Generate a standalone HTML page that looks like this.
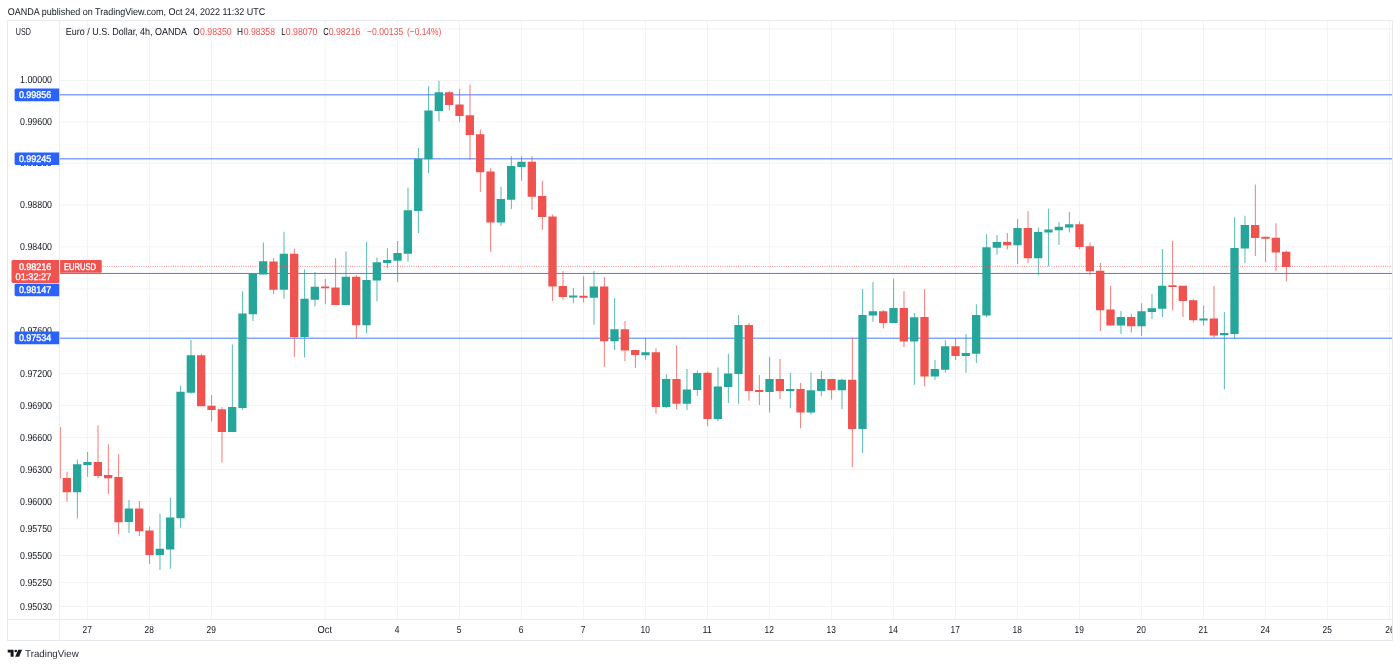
<!DOCTYPE html>
<html lang="en"><head><meta charset="utf-8"><title>EURUSD 4h - TradingView</title>
<style>
html,body{margin:0;padding:0;background:#fff;}
body{width:1400px;height:667px;overflow:hidden;position:relative;font-family:"Liberation Sans",sans-serif;}
svg{position:absolute;left:0;top:0;display:block;}
text{text-rendering:geometricPrecision;font-family:"Liberation Sans",sans-serif;font-size:10.2px;fill:#131722;}
.ax{text-anchor:end;}
.tm{text-anchor:middle;}
.r{fill:#ef5350;}
.w{fill:#fff;stroke:#fff;stroke-width:0.35px;font-size:9.7px;}
</style></head><body>
<svg width="1400" height="667" viewBox="0 0 1400 667">
<rect x="0" y="0" width="1400" height="667" fill="#fff"/>
<g stroke="#f2f4f4" stroke-width="1" fill="none">
<line x1="59.50" y1="28.99" x2="1392.50" y2="28.99"/>
<line x1="59.50" y1="80.45" x2="1392.50" y2="80.45"/>
<line x1="59.50" y1="121.80" x2="1392.50" y2="121.80"/>
<line x1="59.50" y1="163.33" x2="1392.50" y2="163.33"/>
<line x1="59.50" y1="205.01" x2="1392.50" y2="205.01"/>
<line x1="59.50" y1="246.87" x2="1392.50" y2="246.87"/>
<line x1="59.50" y1="288.90" x2="1392.50" y2="288.90"/>
<line x1="59.50" y1="331.10" x2="1392.50" y2="331.10"/>
<line x1="59.50" y1="373.48" x2="1392.50" y2="373.48"/>
<line x1="59.50" y1="405.37" x2="1392.50" y2="405.37"/>
<line x1="59.50" y1="437.36" x2="1392.50" y2="437.36"/>
<line x1="59.50" y1="469.46" x2="1392.50" y2="469.46"/>
<line x1="59.50" y1="501.65" x2="1392.50" y2="501.65"/>
<line x1="59.50" y1="528.56" x2="1392.50" y2="528.56"/>
<line x1="59.50" y1="555.53" x2="1392.50" y2="555.53"/>
<line x1="59.50" y1="582.58" x2="1392.50" y2="582.58"/>
<line x1="59.50" y1="606.44" x2="1392.50" y2="606.44"/>
<line x1="87.50" y1="20.50" x2="87.50" y2="619.50"/>
<line x1="149.50" y1="20.50" x2="149.50" y2="619.50"/>
<line x1="211.50" y1="20.50" x2="211.50" y2="619.50"/>
<line x1="325.17" y1="20.50" x2="325.17" y2="619.50"/>
<line x1="397.50" y1="20.50" x2="397.50" y2="619.50"/>
<line x1="459.50" y1="20.50" x2="459.50" y2="619.50"/>
<line x1="521.50" y1="20.50" x2="521.50" y2="619.50"/>
<line x1="583.50" y1="20.50" x2="583.50" y2="619.50"/>
<line x1="645.50" y1="20.50" x2="645.50" y2="619.50"/>
<line x1="707.50" y1="20.50" x2="707.50" y2="619.50"/>
<line x1="769.50" y1="20.50" x2="769.50" y2="619.50"/>
<line x1="831.50" y1="20.50" x2="831.50" y2="619.50"/>
<line x1="893.50" y1="20.50" x2="893.50" y2="619.50"/>
<line x1="955.50" y1="20.50" x2="955.50" y2="619.50"/>
<line x1="1017.50" y1="20.50" x2="1017.50" y2="619.50"/>
<line x1="1079.50" y1="20.50" x2="1079.50" y2="619.50"/>
<line x1="1141.50" y1="20.50" x2="1141.50" y2="619.50"/>
<line x1="1203.50" y1="20.50" x2="1203.50" y2="619.50"/>
<line x1="1265.50" y1="20.50" x2="1265.50" y2="619.50"/>
<line x1="1327.50" y1="20.50" x2="1327.50" y2="619.50"/>
<line x1="1389.50" y1="20.50" x2="1389.50" y2="619.50"/>
</g>
<g stroke="#2962ff" stroke-width="0.9" stroke-opacity="0.95">
<line x1="59.50" y1="94.83" x2="1392.50" y2="94.83"/>
<line x1="59.50" y1="158.85" x2="1392.50" y2="158.85"/>
<line x1="59.50" y1="273.45" x2="1392.50" y2="273.45"/>
<line x1="59.50" y1="338.18" x2="1392.50" y2="338.18"/>
</g>
<g id="candles">
<rect x="59.5" y="427" width="1.3" height="51.5" fill="#ef5350" fill-opacity="0.8"/>
<rect x="66.53" y="471.75" width="0.9" height="30.00" fill="#ef5350" fill-opacity="0.85"/>
<rect x="62.68" y="478.00" width="8.30" height="14.25" fill="#ef5350"/>
<rect x="76.87" y="459.50" width="0.9" height="59.00" fill="#26a69a" fill-opacity="0.85"/>
<rect x="73.02" y="464.25" width="8.30" height="28.00" fill="#26a69a"/>
<rect x="87.20" y="452.00" width="0.9" height="24.75" fill="#26a69a" fill-opacity="0.85"/>
<rect x="83.35" y="462.00" width="8.30" height="3.00" fill="#26a69a"/>
<rect x="97.53" y="425.50" width="0.9" height="53.00" fill="#ef5350" fill-opacity="0.85"/>
<rect x="93.68" y="462.00" width="8.30" height="14.00" fill="#ef5350"/>
<rect x="107.87" y="444.25" width="0.9" height="49.75" fill="#ef5350" fill-opacity="0.85"/>
<rect x="104.02" y="475.00" width="8.30" height="3.25" fill="#ef5350"/>
<rect x="118.20" y="454.25" width="0.9" height="80.00" fill="#ef5350" fill-opacity="0.85"/>
<rect x="114.35" y="477.00" width="8.30" height="45.25" fill="#ef5350"/>
<rect x="128.53" y="500.00" width="0.9" height="33.00" fill="#26a69a" fill-opacity="0.85"/>
<rect x="124.68" y="508.50" width="8.30" height="13.50" fill="#26a69a"/>
<rect x="138.87" y="501.00" width="0.9" height="35.00" fill="#ef5350" fill-opacity="0.85"/>
<rect x="135.02" y="508.50" width="8.30" height="22.75" fill="#ef5350"/>
<rect x="149.20" y="526.50" width="0.9" height="37.50" fill="#ef5350" fill-opacity="0.85"/>
<rect x="145.35" y="530.50" width="8.30" height="24.50" fill="#ef5350"/>
<rect x="159.53" y="513.75" width="0.9" height="56.25" fill="#26a69a" fill-opacity="0.85"/>
<rect x="155.68" y="548.75" width="8.30" height="6.25" fill="#26a69a"/>
<rect x="169.87" y="497.75" width="0.9" height="71.00" fill="#26a69a" fill-opacity="0.85"/>
<rect x="166.02" y="517.50" width="8.30" height="32.00" fill="#26a69a"/>
<rect x="180.20" y="385.75" width="0.9" height="141.75" fill="#26a69a" fill-opacity="0.85"/>
<rect x="176.35" y="391.75" width="8.30" height="126.50" fill="#26a69a"/>
<rect x="190.53" y="340.00" width="0.9" height="53.50" fill="#26a69a" fill-opacity="0.85"/>
<rect x="186.68" y="355.25" width="8.30" height="37.50" fill="#26a69a"/>
<rect x="200.87" y="353.75" width="0.9" height="52.50" fill="#ef5350" fill-opacity="0.85"/>
<rect x="197.02" y="355.25" width="8.30" height="51.00" fill="#ef5350"/>
<rect x="211.20" y="395.00" width="0.9" height="26.50" fill="#ef5350" fill-opacity="0.85"/>
<rect x="207.35" y="405.75" width="8.30" height="4.25" fill="#ef5350"/>
<rect x="221.53" y="407.00" width="0.9" height="55.50" fill="#ef5350" fill-opacity="0.85"/>
<rect x="217.68" y="409.25" width="8.30" height="22.75" fill="#ef5350"/>
<rect x="231.87" y="344.50" width="0.9" height="87.50" fill="#26a69a" fill-opacity="0.85"/>
<rect x="228.02" y="407.00" width="8.30" height="25.00" fill="#26a69a"/>
<rect x="242.20" y="291.25" width="0.9" height="118.75" fill="#26a69a" fill-opacity="0.85"/>
<rect x="238.35" y="313.50" width="8.30" height="94.50" fill="#26a69a"/>
<rect x="252.53" y="273.50" width="0.9" height="47.50" fill="#26a69a" fill-opacity="0.85"/>
<rect x="248.68" y="273.50" width="8.30" height="40.75" fill="#26a69a"/>
<rect x="262.87" y="242.50" width="0.9" height="32.00" fill="#26a69a" fill-opacity="0.85"/>
<rect x="259.02" y="261.25" width="8.30" height="13.25" fill="#26a69a"/>
<rect x="273.20" y="258.00" width="0.9" height="36.25" fill="#ef5350" fill-opacity="0.85"/>
<rect x="269.35" y="261.50" width="8.30" height="28.25" fill="#ef5350"/>
<rect x="283.53" y="231.75" width="0.9" height="67.00" fill="#26a69a" fill-opacity="0.85"/>
<rect x="279.68" y="253.75" width="8.30" height="36.00" fill="#26a69a"/>
<rect x="293.87" y="248.75" width="0.9" height="108.00" fill="#ef5350" fill-opacity="0.85"/>
<rect x="290.02" y="253.75" width="8.30" height="83.25" fill="#ef5350"/>
<rect x="304.20" y="269.25" width="0.9" height="88.25" fill="#26a69a" fill-opacity="0.85"/>
<rect x="300.35" y="298.75" width="8.30" height="38.25" fill="#26a69a"/>
<rect x="314.53" y="272.00" width="0.9" height="34.50" fill="#26a69a" fill-opacity="0.85"/>
<rect x="310.68" y="286.75" width="8.30" height="13.00" fill="#26a69a"/>
<rect x="324.87" y="279.00" width="0.9" height="25.25" fill="#ef5350" fill-opacity="0.85"/>
<rect x="321.02" y="286.50" width="8.30" height="1.75" fill="#ef5350"/>
<rect x="335.20" y="258.25" width="0.9" height="46.75" fill="#ef5350" fill-opacity="0.85"/>
<rect x="331.35" y="287.50" width="8.30" height="17.50" fill="#ef5350"/>
<rect x="345.53" y="251.50" width="0.9" height="53.50" fill="#26a69a" fill-opacity="0.85"/>
<rect x="341.68" y="276.75" width="8.30" height="28.25" fill="#26a69a"/>
<rect x="355.87" y="275.00" width="0.9" height="63.50" fill="#ef5350" fill-opacity="0.85"/>
<rect x="352.02" y="276.75" width="8.30" height="48.50" fill="#ef5350"/>
<rect x="366.20" y="241.75" width="0.9" height="91.50" fill="#26a69a" fill-opacity="0.85"/>
<rect x="362.35" y="280.00" width="8.30" height="45.25" fill="#26a69a"/>
<rect x="376.53" y="257.50" width="0.9" height="43.75" fill="#26a69a" fill-opacity="0.85"/>
<rect x="372.68" y="262.25" width="8.30" height="18.25" fill="#26a69a"/>
<rect x="386.87" y="248.25" width="0.9" height="19.75" fill="#26a69a" fill-opacity="0.85"/>
<rect x="383.02" y="260.00" width="8.30" height="3.00" fill="#26a69a"/>
<rect x="397.20" y="241.00" width="0.9" height="41.25" fill="#26a69a" fill-opacity="0.85"/>
<rect x="393.35" y="253.00" width="8.30" height="7.75" fill="#26a69a"/>
<rect x="407.53" y="187.50" width="0.9" height="74.25" fill="#26a69a" fill-opacity="0.85"/>
<rect x="403.68" y="210.25" width="8.30" height="43.50" fill="#26a69a"/>
<rect x="417.87" y="148.00" width="0.9" height="85.00" fill="#26a69a" fill-opacity="0.85"/>
<rect x="414.02" y="158.75" width="8.30" height="52.25" fill="#26a69a"/>
<rect x="428.20" y="86.25" width="0.9" height="86.75" fill="#26a69a" fill-opacity="0.85"/>
<rect x="424.35" y="110.50" width="8.30" height="48.75" fill="#26a69a"/>
<rect x="438.53" y="80.75" width="0.9" height="40.50" fill="#26a69a" fill-opacity="0.85"/>
<rect x="434.68" y="92.25" width="8.30" height="18.75" fill="#26a69a"/>
<rect x="448.87" y="91.00" width="0.9" height="19.50" fill="#ef5350" fill-opacity="0.85"/>
<rect x="445.02" y="92.25" width="8.30" height="12.75" fill="#ef5350"/>
<rect x="459.20" y="89.00" width="0.9" height="33.25" fill="#ef5350" fill-opacity="0.85"/>
<rect x="455.35" y="104.50" width="8.30" height="11.50" fill="#ef5350"/>
<rect x="469.53" y="84.50" width="0.9" height="75.25" fill="#ef5350" fill-opacity="0.85"/>
<rect x="465.68" y="115.25" width="8.30" height="19.75" fill="#ef5350"/>
<rect x="479.87" y="129.50" width="0.9" height="62.50" fill="#ef5350" fill-opacity="0.85"/>
<rect x="476.02" y="134.25" width="8.30" height="38.00" fill="#ef5350"/>
<rect x="490.20" y="168.25" width="0.9" height="83.50" fill="#ef5350" fill-opacity="0.85"/>
<rect x="486.35" y="171.50" width="8.30" height="51.00" fill="#ef5350"/>
<rect x="500.53" y="186.75" width="0.9" height="39.25" fill="#26a69a" fill-opacity="0.85"/>
<rect x="496.68" y="199.00" width="8.30" height="23.50" fill="#26a69a"/>
<rect x="510.87" y="156.25" width="0.9" height="52.75" fill="#26a69a" fill-opacity="0.85"/>
<rect x="507.02" y="166.00" width="8.30" height="33.75" fill="#26a69a"/>
<rect x="521.20" y="156.25" width="0.9" height="24.50" fill="#26a69a" fill-opacity="0.85"/>
<rect x="517.35" y="161.75" width="8.30" height="5.25" fill="#26a69a"/>
<rect x="531.53" y="156.25" width="0.9" height="53.50" fill="#ef5350" fill-opacity="0.85"/>
<rect x="527.68" y="161.75" width="8.30" height="35.00" fill="#ef5350"/>
<rect x="541.87" y="180.75" width="0.9" height="49.25" fill="#ef5350" fill-opacity="0.85"/>
<rect x="538.02" y="196.00" width="8.30" height="21.00" fill="#ef5350"/>
<rect x="552.20" y="214.50" width="0.9" height="86.50" fill="#ef5350" fill-opacity="0.85"/>
<rect x="548.35" y="216.50" width="8.30" height="70.00" fill="#ef5350"/>
<rect x="562.53" y="271.00" width="0.9" height="28.75" fill="#ef5350" fill-opacity="0.85"/>
<rect x="558.68" y="286.00" width="8.30" height="11.00" fill="#ef5350"/>
<rect x="572.87" y="288.00" width="0.9" height="15.25" fill="#26a69a" fill-opacity="0.85"/>
<rect x="569.02" y="295.50" width="8.30" height="2.00" fill="#26a69a"/>
<rect x="583.20" y="276.25" width="0.9" height="26.25" fill="#ef5350" fill-opacity="0.85"/>
<rect x="579.35" y="295.75" width="8.30" height="2.00" fill="#ef5350"/>
<rect x="593.53" y="271.00" width="0.9" height="53.75" fill="#26a69a" fill-opacity="0.85"/>
<rect x="589.68" y="286.50" width="8.30" height="11.25" fill="#26a69a"/>
<rect x="603.87" y="277.00" width="0.9" height="89.75" fill="#ef5350" fill-opacity="0.85"/>
<rect x="600.02" y="286.50" width="8.30" height="54.75" fill="#ef5350"/>
<rect x="614.20" y="298.00" width="0.9" height="52.00" fill="#26a69a" fill-opacity="0.85"/>
<rect x="610.35" y="329.25" width="8.30" height="12.00" fill="#26a69a"/>
<rect x="624.53" y="321.00" width="0.9" height="40.00" fill="#ef5350" fill-opacity="0.85"/>
<rect x="620.68" y="329.25" width="8.30" height="21.25" fill="#ef5350"/>
<rect x="634.87" y="350.00" width="0.9" height="18.00" fill="#ef5350" fill-opacity="0.85"/>
<rect x="631.02" y="350.00" width="8.30" height="5.00" fill="#ef5350"/>
<rect x="645.20" y="338.00" width="0.9" height="21.75" fill="#26a69a" fill-opacity="0.85"/>
<rect x="641.35" y="352.25" width="8.30" height="3.00" fill="#26a69a"/>
<rect x="655.53" y="348.25" width="0.9" height="65.50" fill="#ef5350" fill-opacity="0.85"/>
<rect x="651.68" y="352.25" width="8.30" height="54.75" fill="#ef5350"/>
<rect x="665.87" y="374.25" width="0.9" height="33.75" fill="#26a69a" fill-opacity="0.85"/>
<rect x="662.02" y="379.00" width="8.30" height="28.00" fill="#26a69a"/>
<rect x="676.20" y="345.25" width="0.9" height="64.00" fill="#ef5350" fill-opacity="0.85"/>
<rect x="672.35" y="379.00" width="8.30" height="24.75" fill="#ef5350"/>
<rect x="686.53" y="369.00" width="0.9" height="41.00" fill="#26a69a" fill-opacity="0.85"/>
<rect x="682.68" y="389.50" width="8.30" height="14.25" fill="#26a69a"/>
<rect x="696.87" y="370.50" width="0.9" height="25.25" fill="#26a69a" fill-opacity="0.85"/>
<rect x="693.02" y="373.00" width="8.30" height="17.00" fill="#26a69a"/>
<rect x="707.20" y="371.75" width="0.9" height="54.25" fill="#ef5350" fill-opacity="0.85"/>
<rect x="703.35" y="372.75" width="8.30" height="46.25" fill="#ef5350"/>
<rect x="717.53" y="367.50" width="0.9" height="53.75" fill="#26a69a" fill-opacity="0.85"/>
<rect x="713.68" y="386.50" width="8.30" height="32.50" fill="#26a69a"/>
<rect x="727.87" y="353.75" width="0.9" height="49.25" fill="#26a69a" fill-opacity="0.85"/>
<rect x="724.02" y="373.50" width="8.30" height="13.50" fill="#26a69a"/>
<rect x="738.20" y="315.00" width="0.9" height="88.75" fill="#26a69a" fill-opacity="0.85"/>
<rect x="734.35" y="325.00" width="8.30" height="49.00" fill="#26a69a"/>
<rect x="748.53" y="323.00" width="0.9" height="77.75" fill="#ef5350" fill-opacity="0.85"/>
<rect x="744.68" y="325.00" width="8.30" height="66.00" fill="#ef5350"/>
<rect x="758.87" y="375.00" width="0.9" height="30.00" fill="#ef5350" fill-opacity="0.85"/>
<rect x="755.02" y="390.00" width="8.30" height="2.00" fill="#ef5350"/>
<rect x="769.20" y="357.00" width="0.9" height="55.50" fill="#26a69a" fill-opacity="0.85"/>
<rect x="765.35" y="379.00" width="8.30" height="13.00" fill="#26a69a"/>
<rect x="779.53" y="359.00" width="0.9" height="40.00" fill="#ef5350" fill-opacity="0.85"/>
<rect x="775.68" y="379.00" width="8.30" height="12.00" fill="#ef5350"/>
<rect x="789.87" y="372.75" width="0.9" height="35.50" fill="#26a69a" fill-opacity="0.85"/>
<rect x="786.02" y="389.00" width="8.30" height="2.00" fill="#26a69a"/>
<rect x="800.20" y="383.00" width="0.9" height="45.25" fill="#ef5350" fill-opacity="0.85"/>
<rect x="796.35" y="389.00" width="8.30" height="23.50" fill="#ef5350"/>
<rect x="810.53" y="372.75" width="0.9" height="41.75" fill="#26a69a" fill-opacity="0.85"/>
<rect x="806.68" y="390.25" width="8.30" height="22.25" fill="#26a69a"/>
<rect x="820.87" y="370.75" width="0.9" height="25.50" fill="#26a69a" fill-opacity="0.85"/>
<rect x="817.02" y="379.00" width="8.30" height="12.00" fill="#26a69a"/>
<rect x="831.20" y="379.00" width="0.9" height="20.50" fill="#ef5350" fill-opacity="0.85"/>
<rect x="827.35" y="379.00" width="8.30" height="11.25" fill="#ef5350"/>
<rect x="841.53" y="378.75" width="0.9" height="30.50" fill="#26a69a" fill-opacity="0.85"/>
<rect x="837.68" y="379.75" width="8.30" height="10.50" fill="#26a69a"/>
<rect x="851.87" y="338.00" width="0.9" height="129.25" fill="#ef5350" fill-opacity="0.85"/>
<rect x="848.02" y="379.75" width="8.30" height="49.25" fill="#ef5350"/>
<rect x="862.20" y="289.00" width="0.9" height="164.00" fill="#26a69a" fill-opacity="0.85"/>
<rect x="858.35" y="315.00" width="8.30" height="114.00" fill="#26a69a"/>
<rect x="872.53" y="282.00" width="0.9" height="39.75" fill="#26a69a" fill-opacity="0.85"/>
<rect x="868.68" y="311.25" width="8.30" height="4.25" fill="#26a69a"/>
<rect x="882.87" y="310.00" width="0.9" height="18.50" fill="#ef5350" fill-opacity="0.85"/>
<rect x="879.02" y="311.25" width="8.30" height="11.75" fill="#ef5350"/>
<rect x="893.20" y="278.75" width="0.9" height="44.25" fill="#26a69a" fill-opacity="0.85"/>
<rect x="889.35" y="308.00" width="8.30" height="15.00" fill="#26a69a"/>
<rect x="903.53" y="291.25" width="0.9" height="55.75" fill="#ef5350" fill-opacity="0.85"/>
<rect x="899.68" y="308.00" width="8.30" height="33.50" fill="#ef5350"/>
<rect x="913.87" y="313.00" width="0.9" height="71.75" fill="#26a69a" fill-opacity="0.85"/>
<rect x="910.02" y="317.25" width="8.30" height="24.25" fill="#26a69a"/>
<rect x="924.20" y="289.00" width="0.9" height="97.25" fill="#ef5350" fill-opacity="0.85"/>
<rect x="920.35" y="317.00" width="8.30" height="59.50" fill="#ef5350"/>
<rect x="934.53" y="360.00" width="0.9" height="19.75" fill="#26a69a" fill-opacity="0.85"/>
<rect x="930.68" y="369.00" width="8.30" height="7.50" fill="#26a69a"/>
<rect x="944.87" y="340.25" width="0.9" height="32.25" fill="#26a69a" fill-opacity="0.85"/>
<rect x="941.02" y="346.25" width="8.30" height="23.50" fill="#26a69a"/>
<rect x="955.20" y="338.00" width="0.9" height="22.00" fill="#ef5350" fill-opacity="0.85"/>
<rect x="951.35" y="346.25" width="8.30" height="9.75" fill="#ef5350"/>
<rect x="965.53" y="334.00" width="0.9" height="38.75" fill="#26a69a" fill-opacity="0.85"/>
<rect x="961.68" y="353.00" width="8.30" height="3.00" fill="#26a69a"/>
<rect x="975.87" y="304.25" width="0.9" height="58.75" fill="#26a69a" fill-opacity="0.85"/>
<rect x="972.02" y="315.00" width="8.30" height="38.75" fill="#26a69a"/>
<rect x="986.20" y="234.25" width="0.9" height="83.00" fill="#26a69a" fill-opacity="0.85"/>
<rect x="982.35" y="247.25" width="8.30" height="68.25" fill="#26a69a"/>
<rect x="996.53" y="235.00" width="0.9" height="19.75" fill="#26a69a" fill-opacity="0.85"/>
<rect x="992.68" y="242.00" width="8.30" height="5.75" fill="#26a69a"/>
<rect x="1006.87" y="233.00" width="0.9" height="16.50" fill="#ef5350" fill-opacity="0.85"/>
<rect x="1003.02" y="242.00" width="8.30" height="3.25" fill="#ef5350"/>
<rect x="1017.20" y="219.00" width="0.9" height="45.00" fill="#26a69a" fill-opacity="0.85"/>
<rect x="1013.35" y="228.00" width="8.30" height="17.25" fill="#26a69a"/>
<rect x="1027.53" y="211.25" width="0.9" height="51.75" fill="#ef5350" fill-opacity="0.85"/>
<rect x="1023.68" y="228.00" width="8.30" height="30.25" fill="#ef5350"/>
<rect x="1037.87" y="227.50" width="0.9" height="47.75" fill="#26a69a" fill-opacity="0.85"/>
<rect x="1034.02" y="232.00" width="8.30" height="26.25" fill="#26a69a"/>
<rect x="1048.20" y="208.75" width="0.9" height="57.50" fill="#26a69a" fill-opacity="0.85"/>
<rect x="1044.35" y="229.50" width="8.30" height="3.00" fill="#26a69a"/>
<rect x="1058.53" y="222.00" width="0.9" height="23.00" fill="#26a69a" fill-opacity="0.85"/>
<rect x="1054.68" y="226.75" width="8.30" height="3.50" fill="#26a69a"/>
<rect x="1068.87" y="212.00" width="0.9" height="20.50" fill="#26a69a" fill-opacity="0.85"/>
<rect x="1065.02" y="224.25" width="8.30" height="3.25" fill="#26a69a"/>
<rect x="1079.20" y="221.50" width="0.9" height="27.75" fill="#ef5350" fill-opacity="0.85"/>
<rect x="1075.35" y="224.25" width="8.30" height="22.75" fill="#ef5350"/>
<rect x="1089.53" y="242.50" width="0.9" height="32.75" fill="#ef5350" fill-opacity="0.85"/>
<rect x="1085.68" y="246.25" width="8.30" height="25.00" fill="#ef5350"/>
<rect x="1099.87" y="263.00" width="0.9" height="68.00" fill="#ef5350" fill-opacity="0.85"/>
<rect x="1096.02" y="270.75" width="8.30" height="39.50" fill="#ef5350"/>
<rect x="1110.20" y="285.75" width="0.9" height="39.75" fill="#ef5350" fill-opacity="0.85"/>
<rect x="1106.35" y="309.50" width="8.30" height="16.00" fill="#ef5350"/>
<rect x="1120.53" y="311.00" width="0.9" height="23.00" fill="#26a69a" fill-opacity="0.85"/>
<rect x="1116.68" y="317.00" width="8.30" height="8.50" fill="#26a69a"/>
<rect x="1130.87" y="313.75" width="0.9" height="18.75" fill="#ef5350" fill-opacity="0.85"/>
<rect x="1127.02" y="317.00" width="8.30" height="9.25" fill="#ef5350"/>
<rect x="1141.20" y="303.25" width="0.9" height="32.75" fill="#26a69a" fill-opacity="0.85"/>
<rect x="1137.35" y="311.25" width="8.30" height="15.00" fill="#26a69a"/>
<rect x="1151.53" y="294.00" width="0.9" height="25.00" fill="#26a69a" fill-opacity="0.85"/>
<rect x="1147.68" y="308.25" width="8.30" height="3.75" fill="#26a69a"/>
<rect x="1161.87" y="249.00" width="0.9" height="68.00" fill="#26a69a" fill-opacity="0.85"/>
<rect x="1158.02" y="285.75" width="8.30" height="23.00" fill="#26a69a"/>
<rect x="1172.20" y="240.75" width="0.9" height="69.50" fill="#ef5350" fill-opacity="0.85"/>
<rect x="1168.35" y="285.25" width="8.30" height="1.75" fill="#ef5350"/>
<rect x="1182.53" y="285.75" width="0.9" height="31.25" fill="#ef5350" fill-opacity="0.85"/>
<rect x="1178.68" y="285.75" width="8.30" height="15.25" fill="#ef5350"/>
<rect x="1192.87" y="299.25" width="0.9" height="23.25" fill="#ef5350" fill-opacity="0.85"/>
<rect x="1189.02" y="300.25" width="8.30" height="20.00" fill="#ef5350"/>
<rect x="1203.20" y="305.50" width="0.9" height="20.00" fill="#26a69a" fill-opacity="0.85"/>
<rect x="1199.35" y="318.50" width="8.30" height="2.00" fill="#26a69a"/>
<rect x="1213.53" y="286.00" width="0.9" height="52.00" fill="#ef5350" fill-opacity="0.85"/>
<rect x="1209.68" y="318.50" width="8.30" height="17.00" fill="#ef5350"/>
<rect x="1223.87" y="312.00" width="0.9" height="77.50" fill="#26a69a" fill-opacity="0.85"/>
<rect x="1220.02" y="333.00" width="8.30" height="2.25" fill="#26a69a"/>
<rect x="1234.20" y="217.25" width="0.9" height="121.75" fill="#26a69a" fill-opacity="0.85"/>
<rect x="1230.35" y="248.00" width="8.30" height="86.00" fill="#26a69a"/>
<rect x="1244.53" y="215.75" width="0.9" height="47.25" fill="#26a69a" fill-opacity="0.85"/>
<rect x="1240.68" y="225.00" width="8.30" height="23.50" fill="#26a69a"/>
<rect x="1254.87" y="184.50" width="0.9" height="71.50" fill="#ef5350" fill-opacity="0.85"/>
<rect x="1251.02" y="225.00" width="8.30" height="13.00" fill="#ef5350"/>
<rect x="1265.20" y="236.75" width="0.9" height="25.50" fill="#ef5350" fill-opacity="0.85"/>
<rect x="1261.35" y="236.75" width="8.30" height="2.00" fill="#ef5350"/>
<rect x="1275.53" y="223.25" width="0.9" height="48.00" fill="#ef5350" fill-opacity="0.85"/>
<rect x="1271.68" y="237.75" width="8.30" height="14.75" fill="#ef5350"/>
<rect x="1285.87" y="250.75" width="0.9" height="30.75" fill="#ef5350" fill-opacity="0.85"/>
<rect x="1282.02" y="251.75" width="8.30" height="15.25" fill="#ef5350"/>
</g>
<line x1="59.50" y1="266.40" x2="1392.50" y2="266.40" stroke="#ef5350" stroke-width="1" stroke-opacity="0.8" stroke-dasharray="0.8 1.47"/>
<g stroke="#e8eaf0" stroke-width="1" fill="none">
<rect x="7.5" y="20.5" width="1385.0" height="620.0"/>
<line x1="59.5" y1="20.5" x2="59.5" y2="640.5" stroke="#ecedf1"/>
<line x1="7.5" y1="619.5" x2="1392.5" y2="619.5" stroke="#e9ebf0"/>
</g>
<g class="axis">
<text class="ax" x="52" y="83.05" textLength="32" lengthAdjust="spacingAndGlyphs">1.00000</text>
<text class="ax" x="52" y="125.00" textLength="32" lengthAdjust="spacingAndGlyphs">0.99600</text>
<text class="ax" x="52" y="165.93" textLength="32" lengthAdjust="spacingAndGlyphs">0.99200</text>
<text class="ax" x="52" y="208.21" textLength="32" lengthAdjust="spacingAndGlyphs">0.98800</text>
<text class="ax" x="52" y="250.07" textLength="32" lengthAdjust="spacingAndGlyphs">0.98400</text>
<text class="ax" x="52" y="292.10" textLength="32" lengthAdjust="spacingAndGlyphs">0.98000</text>
<text class="ax" x="52" y="334.30" textLength="32" lengthAdjust="spacingAndGlyphs">0.97600</text>
<text class="ax" x="52" y="376.68" textLength="32" lengthAdjust="spacingAndGlyphs">0.97200</text>
<text class="ax" x="52" y="408.57" textLength="32" lengthAdjust="spacingAndGlyphs">0.96900</text>
<text class="ax" x="52" y="440.56" textLength="32" lengthAdjust="spacingAndGlyphs">0.96600</text>
<text class="ax" x="52" y="472.66" textLength="32" lengthAdjust="spacingAndGlyphs">0.96300</text>
<text class="ax" x="52" y="504.85" textLength="32" lengthAdjust="spacingAndGlyphs">0.96000</text>
<text class="ax" x="52" y="531.76" textLength="32" lengthAdjust="spacingAndGlyphs">0.95750</text>
<text class="ax" x="52" y="558.73" textLength="32" lengthAdjust="spacingAndGlyphs">0.95500</text>
<text class="ax" x="52" y="585.78" textLength="32" lengthAdjust="spacingAndGlyphs">0.95250</text>
<text class="ax" x="52" y="609.64" textLength="32" lengthAdjust="spacingAndGlyphs">0.95030</text>
</g>
<path d="M16.20 88.60H59.20V101.20H16.20Q14.60 101.20 14.60 99.60V90.20Q14.60 88.60 16.20 88.60Z" fill="#2962ff"/>
<text class="ax w" x="51.3" y="98.20" textLength="32.4" lengthAdjust="spacingAndGlyphs">0.99856</text>
<path d="M16.20 152.40H59.20V165.00H16.20Q14.60 165.00 14.60 163.40V154.00Q14.60 152.40 16.20 152.40Z" fill="#2962ff"/>
<text class="ax w" x="51.3" y="162.00" textLength="32.4" lengthAdjust="spacingAndGlyphs">0.99245</text>
<path d="M16.20 283.70H59.20V296.20H16.20Q14.60 296.20 14.60 294.60V285.30Q14.60 283.70 16.20 283.70Z" fill="#2962ff"/>
<text class="ax w" x="51.3" y="293.25" textLength="32.4" lengthAdjust="spacingAndGlyphs">0.98147</text>
<path d="M16.20 331.60H59.20V344.20H16.20Q14.60 344.20 14.60 342.60V333.20Q14.60 331.60 16.20 331.60Z" fill="#2962ff"/>
<text class="ax w" x="51.3" y="341.20" textLength="32.4" lengthAdjust="spacingAndGlyphs">0.97534</text>
<path d="M13.10 260.00H59.20V282.90H13.10Q11.50 282.90 11.50 281.30V261.60Q11.50 260.00 13.10 260.00Z" fill="#ef5350"/>
<text class="ax w" x="51.3" y="269.8" textLength="32.4" lengthAdjust="spacingAndGlyphs">0.98216</text>
<text class="ax w" x="51.3" y="280.4" textLength="35.7" lengthAdjust="spacingAndGlyphs" fill-opacity="0.85">01:32:27</text>
<rect x="60.2" y="260" width="41.5" height="12.7" rx="1" fill="#ef5350"/>
<rect x="60.2" y="260" width="2" height="12.7" fill="#ef5350"/>
<rect x="59.0" y="260" width="1.1" height="12.7" fill="#fde3e2"/>
<text class="w" x="63.9" y="269.7" textLength="32.2" lengthAdjust="spacingAndGlyphs">EURUSD</text>
<text class="tm" x="87.20" y="632.7" textLength="9.3" lengthAdjust="spacingAndGlyphs">27</text>
<text class="tm" x="149.20" y="632.7" textLength="9.3" lengthAdjust="spacingAndGlyphs">28</text>
<text class="tm" x="211.20" y="632.7" textLength="9.3" lengthAdjust="spacingAndGlyphs">29</text>
<text class="tm" x="324.87" y="632.7" textLength="14.5" lengthAdjust="spacingAndGlyphs">Oct</text>
<text class="tm" x="397.20" y="632.7" textLength="4.7" lengthAdjust="spacingAndGlyphs">4</text>
<text class="tm" x="459.20" y="632.7" textLength="4.7" lengthAdjust="spacingAndGlyphs">5</text>
<text class="tm" x="521.20" y="632.7" textLength="4.7" lengthAdjust="spacingAndGlyphs">6</text>
<text class="tm" x="583.20" y="632.7" textLength="4.7" lengthAdjust="spacingAndGlyphs">7</text>
<text class="tm" x="645.20" y="632.7" textLength="9.3" lengthAdjust="spacingAndGlyphs">10</text>
<text class="tm" x="707.20" y="632.7" textLength="9.3" lengthAdjust="spacingAndGlyphs">11</text>
<text class="tm" x="769.20" y="632.7" textLength="9.3" lengthAdjust="spacingAndGlyphs">12</text>
<text class="tm" x="831.20" y="632.7" textLength="9.3" lengthAdjust="spacingAndGlyphs">13</text>
<text class="tm" x="893.20" y="632.7" textLength="9.3" lengthAdjust="spacingAndGlyphs">14</text>
<text class="tm" x="955.20" y="632.7" textLength="9.3" lengthAdjust="spacingAndGlyphs">17</text>
<text class="tm" x="1017.20" y="632.7" textLength="9.3" lengthAdjust="spacingAndGlyphs">18</text>
<text class="tm" x="1079.20" y="632.7" textLength="9.3" lengthAdjust="spacingAndGlyphs">19</text>
<text class="tm" x="1141.20" y="632.7" textLength="9.3" lengthAdjust="spacingAndGlyphs">20</text>
<text class="tm" x="1203.20" y="632.7" textLength="9.3" lengthAdjust="spacingAndGlyphs">21</text>
<text class="tm" x="1265.20" y="632.7" textLength="9.3" lengthAdjust="spacingAndGlyphs">24</text>
<text class="tm" x="1327.20" y="632.7" textLength="9.3" lengthAdjust="spacingAndGlyphs">25</text>
<clipPath id="cr"><rect x="1300" y="620" width="92" height="20"/></clipPath>
<text class="tm" x="1389.90" y="632.7" textLength="9.3" lengthAdjust="spacingAndGlyphs" clip-path="url(#cr)">26</text>
<text x="7.8" y="15.2" style="font-size:9.8px" textLength="257.5" lengthAdjust="spacingAndGlyphs">OANDA published on TradingView.com, Oct 24, 2022 11:32 UTC</text>
<text x="15.8" y="34.7" textLength="15" lengthAdjust="spacingAndGlyphs">USD</text>
<g id="legend">
<text x="65.8" y="35" textLength="121.2" lengthAdjust="spacingAndGlyphs">Euro / U.S. Dollar, 4h, OANDA</text>
<text x="193.3" y="35" textLength="6.4" lengthAdjust="spacingAndGlyphs">O</text>
<text x="200.0" y="35" class="r" textLength="31.7" lengthAdjust="spacingAndGlyphs">0.98350</text>
<text x="237.0" y="35" textLength="6.0" lengthAdjust="spacingAndGlyphs">H</text>
<text x="243.7" y="35" class="r" textLength="31.3" lengthAdjust="spacingAndGlyphs">0.98358</text>
<text x="281.2" y="35" textLength="4.4" lengthAdjust="spacingAndGlyphs">L</text>
<text x="285.8" y="35" class="r" textLength="31.7" lengthAdjust="spacingAndGlyphs">0.98070</text>
<text x="323.3" y="35" textLength="5.4" lengthAdjust="spacingAndGlyphs">C</text>
<text x="328.7" y="35" class="r" textLength="31.6" lengthAdjust="spacingAndGlyphs">0.98216</text>
<text x="367.0" y="35" class="r" textLength="36.3" lengthAdjust="spacingAndGlyphs">−0.00135</text>
<text x="407.0" y="35" class="r" textLength="34.3" lengthAdjust="spacingAndGlyphs">(−0.14%)</text>
</g>
<g fill="#131722">
<path d="M7.7 649.7h5.9v7h-3v-4.1H7.7z"/>
<circle cx="15.75" cy="651" r="1.3"/>
<path d="M18.2 649.7h3.9l-3 7h-3.9z"/>
</g>
<text x="25.1" y="656.7" style="font-size:10px;fill:#2a2e39" textLength="53.6" lengthAdjust="spacingAndGlyphs">TradingView</text>
</svg>
</body></html>
